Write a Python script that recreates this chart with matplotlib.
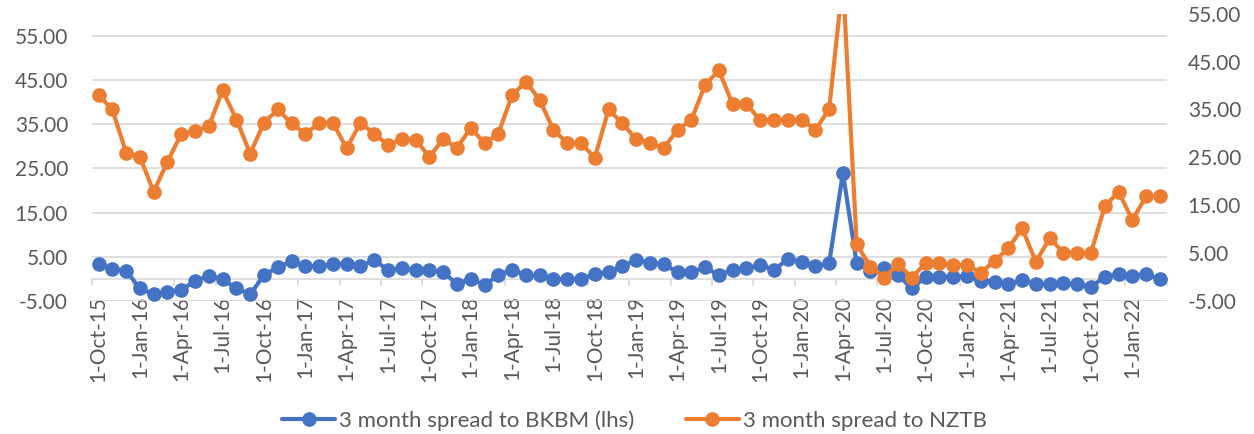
import matplotlib
matplotlib.use("Agg")
import matplotlib.pyplot as plt
from matplotlib.ticker import FixedLocator, FormatStrFormatter

plt.rcParams['font.family'] = ['Lato', 'DejaVu Sans']

# ---- data ----
bkbm = [3.35, 2.2, 1.8, -2.15, -3.5, -2.9, -2.5, -0.5, 0.7, -0.1, -2.15, -3.5,
        0.85, 2.6, 4.0, 2.9, 2.9, 3.35, 3.35, 2.9, 4.25, 2.0, 2.4, 2.0,
        2.0, 1.6, -1.2, 0.0, -1.4, 0.85, 2.1, 0.85, 0.85, 0.0, 0.0, 0.0,
        1.1, 1.6, 2.9, 4.25, 3.7, 3.35, 1.5, 1.5, 2.6, 0.85, 2.1, 2.4,
        3.1, 2.1, 4.4, 3.9, 2.9, 3.5, 24.0, 3.5, 1.8, 2.4, 0.85, -2.15,
        0.5, 0.5, 0.5, 0.6, -0.4, -0.6, -1.2, -0.3, -1.2, -1.2, -1.0, -1.2,
        -1.8, 0.5, 1.1, 0.6, 1.1, -0.1]
nztb = [38.0, 35.0, 26.0, 25.1, 17.8, 24.1, 29.9, 30.5, 31.5, 39.0, 32.9, 25.8,
        32.2, 35.0, 32.1, 29.9, 32.1, 32.2, 26.9, 32.2, 29.9, 27.6, 28.8, 28.7,
        25.1, 28.8, 27.0, 31.1, 28.0, 29.9, 38.0, 40.8, 37.0, 30.7, 28.0, 28.0,
        24.9, 35.0, 32.1, 28.8, 28.1, 26.9, 30.8, 32.8, 40.1, 43.2, 36.1, 36.1,
        32.8, 32.8, 32.8, 32.9, 30.8, 35.0, 62.0, 6.8, 2.2, -0.1, 2.7, -0.1,
        2.9, 2.9, 2.5, 2.5, 0.9, 3.35, 6.0, 10.2, 3.2, 8.1, 5.1, 5.1,
        5.1, 14.8, 17.8, 11.9, 16.9, 16.9]
x_labels = ['1-Oct-15', '1-Jan-16', '1-Apr-16', '1-Jul-16', '1-Oct-16', '1-Jan-17',
            '1-Apr-17', '1-Jul-17', '1-Oct-17', '1-Jan-18', '1-Apr-18', '1-Jul-18',
            '1-Oct-18', '1-Jan-19', '1-Apr-19', '1-Jul-19', '1-Oct-19', '1-Jan-20',
            '1-Apr-20', '1-Jul-20', '1-Oct-20', '1-Jan-21', '1-Apr-21', '1-Jul-21',
            '1-Oct-21', '1-Jan-22']
y_ticks = [-5, 5, 15, 25, 35, 45, 55]
series_names = ['3 month spread to BKBM (lhs)', '3 month spread to NZTB']

BLUE = '#4472C4'
ORANGE = '#ED7D31'
GRID = '#D9D9D9'
TXT = '#595959'
FS = 15
FSL = 16

fig = plt.figure(figsize=(12.54, 4.34), dpi=100)
ax = fig.add_axes([0.0731, 0.3065, 0.8574, 0.6619])
ax2 = ax.twinx()

x = list(range(len(bkbm)))
l1, = ax.plot(x, bkbm, color=BLUE, lw=3.0, marker='o', ms=9.5, zorder=3,
              solid_capstyle='round', solid_joinstyle='round')
l2, = ax2.plot(x, nztb, color=ORANGE, lw=3.0, marker='o', ms=9.5, zorder=3,
               solid_capstyle='round', solid_joinstyle='round')

ax.set_xlim(-0.5, len(bkbm) - 0.5)
ax.set_ylim(-5, 60)
ax2.set_ylim(-5, 55)

for a in (ax, ax2):
    for s in a.spines.values():
        s.set_visible(False)

ax.spines['bottom'].set_visible(True)
ax.spines['bottom'].set_position(('data', 0))
ax.spines['bottom'].set_color(GRID)
ax.spines['bottom'].set_linewidth(1.2)

ax.yaxis.set_major_locator(FixedLocator(y_ticks))
ax.yaxis.set_major_formatter(FormatStrFormatter('%.2f'))
ax.grid(axis='y', color=GRID, lw=1.2)
ax.set_axisbelow(True)
ax.tick_params(axis='y', length=0, labelsize=FS, labelcolor=TXT, pad=17)

ax2.yaxis.set_major_locator(FixedLocator(y_ticks))
ax2.yaxis.set_major_formatter(FormatStrFormatter('%.2f'))
ax2.tick_params(axis='y', length=0, labelsize=FS, labelcolor=TXT, pad=15)

ax.set_xticks(list(range(0, len(bkbm), 3)))
ax.set_xticklabels(x_labels, rotation=90)
ax.set_xticks([i - 0.5 for i in range(0, len(bkbm) + 1, 3)], minor=True)
ax.tick_params(axis='x', which='major', length=0, labelsize=FS, labelcolor=TXT, pad=12)
ax.tick_params(axis='x', which='minor', length=5, width=1.2, color=GRID, direction='out')

fig.legend([l1, l2], series_names, loc='center', bbox_to_anchor=(0.506, 0.03),
           ncol=2, frameon=False, fontsize=FSL, labelcolor=TXT, handlelength=2.4,
           handletextpad=0.18, columnspacing=2.3, markerscale=1.0)

fig.savefig('out.png', dpi=100)
